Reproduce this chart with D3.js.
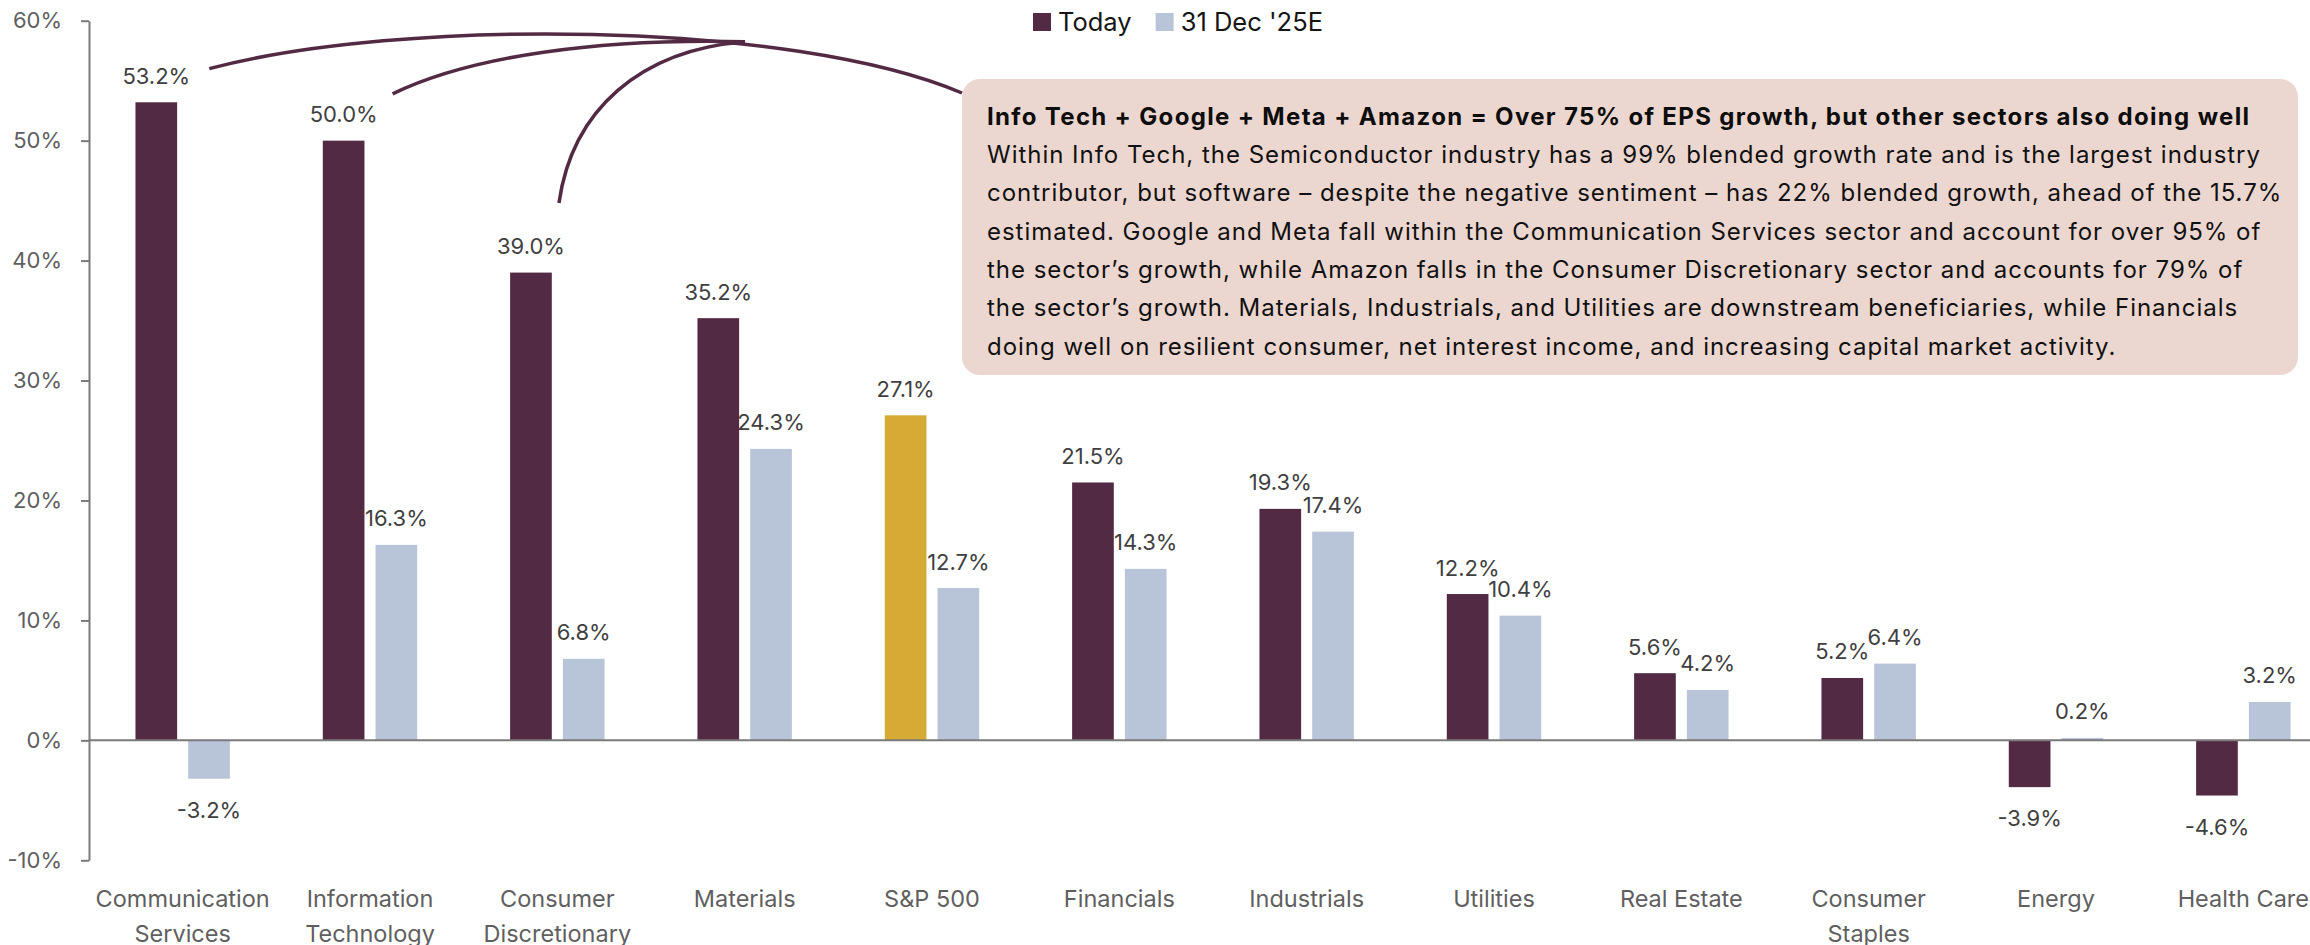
<!DOCTYPE html>
<html>
<head>
<meta charset="utf-8">
<script src="https://cdn.jsdelivr.net/npm/d3@7"></script>
<style>
  html, body { margin: 0; padding: 0; background: #ffffff; }
  svg { display: block; font-family: Inter, "Noto Sans", sans-serif; }
</style>
</head>
<body>
<svg id="chart" width="2310" height="945"></svg>
<script>
// ---- Data ----------------------------------------------------------------
const categories = [
  "Communication Services", "Information Technology", "Consumer Discretionary",
  "Materials", "S&P 500", "Financials", "Industrials", "Utilities",
  "Real Estate", "Consumer Staples", "Energy", "Health Care"
];
const categoryLines = [
  ["Communication", "Services"], ["Information", "Technology"], ["Consumer", "Discretionary"],
  ["Materials"], ["S&P 500"], ["Financials"], ["Industrials"], ["Utilities"],
  ["Real Estate"], ["Consumer", "Staples"], ["Energy"], ["Health Care"]
];
const todayValues = [53.2, 50.0, 39.0, 35.2, 27.1, 21.5, 19.3, 12.2, 5.6, 5.2, -3.9, -4.6];
const estimateValues = [-3.2, 16.3, 6.8, 24.3, 12.7, 14.3, 17.4, 10.4, 4.2, 6.4, 0.2, 3.2];
const seriesNames = ["Today", "31 Dec '25E"];
const yTickValues = [-10, 0, 10, 20, 30, 40, 50, 60];
const indexCategory = "S&P 500";

const noteTitle = "Info Tech + Google + Meta + Amazon = Over 75% of EPS growth, but other sectors also doing well";
const noteLines = [
  "Within Info Tech, the Semiconductor industry has a 99% blended growth rate and is the largest industry",
  "contributor, but software \u2013 despite the negative sentiment \u2013 has 22% blended growth, ahead of the 15.7%",
  "estimated. Google and Meta fall within the Communication Services sector and account for over 95% of",
  "the sector\u2019s growth, while Amazon falls in the Consumer Discretionary sector and accounts for 79% of",
  "the sector\u2019s growth. Materials, Industrials, and Utilities are downstream beneficiaries, while Financials",
  "doing well on resilient consumer, net interest income, and increasing capital market activity."
];

// ---- Styling --------------------------------------------------------------
const colors = {
  today: "#532a44",
  estimate: "#b8c5d9",
  index: "#d5ab35",
  axis: "#7a7a7a",
  tickText: "#5f5f5f",
  valueText: "#3f3f3f",
  note: "#ecd7d0"
};

const svg = d3.select("#chart");
const W = 2310, H = 945;
const plot = { left: 89, right: 2337, top: 20.7, bottom: 860.3 };

// ---- Scales ---------------------------------------------------------------
const x0 = d3.scaleBand()
  .domain(categories)
  .range([plot.left, plot.right])
  .paddingInner(0.496)
  .paddingOuter(0.248);

const x1 = d3.scaleBand()
  .domain(seriesNames)
  .range([0, x0.bandwidth()])
  .paddingInner(0.21)
  .paddingOuter(0);

const y = d3.scaleLinear()
  .domain([-10, 60])
  .range([plot.bottom, plot.top]);

const pct = v => v.toFixed(1) + "%";

const rows = categories.map((c, i) => ({
  category: c,
  lines: categoryLines[i],
  values: [
    { series: seriesNames[0], value: todayValues[i] },
    { series: seriesNames[1], value: estimateValues[i] }
  ]
}));

function barFill(row, d) {
  if (d.series === seriesNames[1]) return colors.estimate;
  return row.category === indexCategory ? colors.index : colors.today;
}

// ---- Y axis ---------------------------------------------------------------
const yAxis = d3.axisLeft(y)
  .tickValues(yTickValues)
  .tickSize(8)
  .tickSizeOuter(0)
  .tickPadding(19)
  .tickFormat(d => d + "%");

const gy = svg.append("g")
  .attr("transform", `translate(${plot.left},0)`)
  .call(yAxis);
gy.select(".domain").attr("stroke", colors.axis).attr("stroke-width", 2);
gy.selectAll(".tick line").attr("stroke", colors.axis).attr("stroke-width", 2);
gy.selectAll(".tick text")
  .attr("fill", colors.tickText)
  .attr("font-size", 22)
  .attr("font-family", "Inter, sans-serif");

// ---- Bars -----------------------------------------------------------------
const groups = svg.append("g").selectAll("g")
  .data(rows)
  .join("g")
  .attr("transform", d => `translate(${x0(d.category)},0)`);

groups.selectAll("rect")
  .data(row => row.values.map(v => ({ row, ...v })))
  .join("rect")
  .attr("x", d => x1(d.series))
  .attr("width", x1.bandwidth())
  .attr("y", d => y(Math.max(0, d.value)))
  .attr("height", d => Math.abs(y(d.value) - y(0)))
  .attr("fill", d => barFill(d.row, d));

// value labels
groups.selectAll("text.value")
  .data(row => row.values)
  .join("text")
  .attr("class", "value")
  .attr("x", d => x1(d.series) + x1.bandwidth() / 2)
  .attr("y", d => d.value >= 0 ? y(d.value) - 18.5 : y(d.value) + 39)
  .attr("text-anchor", "middle")
  .attr("font-size", 22)
  .attr("fill", colors.valueText)
  .text(d => pct(d.value));

// ---- Zero line --------------------------------------------------------------
svg.append("line")
  .attr("x1", plot.left).attr("x2", W)
  .attr("y1", y(0)).attr("y2", y(0))
  .attr("stroke", colors.axis)
  .attr("stroke-width", 2);

// ---- Category labels ------------------------------------------------------
const cat = svg.append("g").selectAll("text")
  .data(rows)
  .join("text")
  .attr("x", d => x0(d.category) + x0.bandwidth() / 2)
  .attr("y", 906.5)
  .attr("text-anchor", "middle")
  .attr("font-size", 23.5)
  .attr("fill", colors.tickText);
cat.selectAll("tspan")
  .data(d => d.lines)
  .join("tspan")
  .attr("x", function () { return d3.select(this.parentNode).attr("x"); })
  .attr("dy", (d, i) => i === 0 ? 0 : 35)
  .text(d => d);

// ---- Legend -----------------------------------------------------------------
const legend = svg.append("g").attr("transform", "translate(1033,13)");
let legendX = 0;
seriesNames.forEach((name, i) => {
  const item = legend.append("g").attr("transform", `translate(${legendX},0)`);
  item.append("rect")
    .attr("width", 18).attr("height", 18)
    .attr("fill", i === 0 ? colors.today : colors.estimate);
  const t = item.append("text")
    .attr("x", 25).attr("y", 17.5)
    .attr("font-size", 25.5)
    .attr("fill", "#151515")
    .text(name);
  legendX += 25 + t.node().getComputedTextLength() + 24;
});

// ---- Commentary box -----------------------------------------------------------
const box = { x: 962, y: 79, w: 1336, h: 296 };
svg.append("rect")
  .attr("x", box.x).attr("y", box.y)
  .attr("width", box.w).attr("height", box.h)
  .attr("rx", 18).attr("ry", 18)
  .attr("fill", colors.note);

const textLeft = 987;
const titleText = svg.append("text")
  .attr("x", textLeft).attr("y", 124.5)
  .attr("font-size", 24)
  .attr("font-weight", 700)
  .attr("fill", "#0d0d0d")
  .text(noteTitle);

const bodyText = svg.append("g").selectAll("text")
  .data(noteLines)
  .join("text")
  .attr("x", textLeft)
  .attr("y", (d, i) => 163 + i * 38.3)
  .attr("font-size", 24)
  .attr("fill", "#111111")
  .text(d => d);

// fit the title and first body line to the box's text measure
function fitSpacing(sel, target) {
  const node = sel.node();
  const w = node.getComputedTextLength();
  const n = node.textContent.length;
  return (target - w) / (n - 1);
}
const titleSpacing = fitSpacing(titleText, 1262);
titleText.attr("letter-spacing", titleSpacing);
const bodySpacing = fitSpacing(d3.select(bodyText.nodes()[0]), 1273);
bodyText.attr("letter-spacing", bodySpacing);

// ---- Connector curves to the commentary ------------------------------------------
const bc = (c, s) => x0(c) + x1(s) + x1.bandwidth() / 2;
const merge = [745, y(58.25)];
const corner = [box.x, 93];
const connectors = [
  // Communication Services -> commentary box
  `M${bc(categories[0], seriesNames[0]) + 53},${y(56)} C400,18 790,20 ${corner[0]},${corner[1]}`,
  // Information Technology -> joins main curve
  `M${bc(categories[1], seriesNames[0]) + 49},${y(53.9)} C470,56 600,38 ${merge[0]},${merge[1]}`,
  // Consumer Discretionary -> joins main curve
  `M${bc(categories[2], seriesNames[0]) + 28},${y(44.8)} C572,110 640,50 ${merge[0]},${merge[1]}`
];
svg.append("g").selectAll("path")
  .data(connectors)
  .join("path")
  .attr("d", d => d)
  .attr("fill", "none")
  .attr("stroke", colors.today)
  .attr("stroke-width", 3.5)
  .attr("stroke-linecap", "butt");
</script>
</body>
</html>
